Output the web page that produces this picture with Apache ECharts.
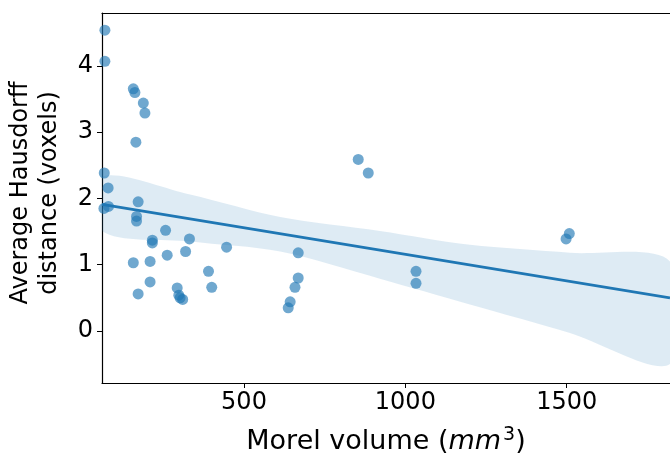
<!DOCTYPE html>
<html>
<head>
<meta charset="utf-8">
<script src="https://cdn.jsdelivr.net/npm/echarts@6/dist/echarts.min.js"></script>
<style>
html,body{margin:0;padding:0;background:#fff;}
#chart{width:670px;height:459px;}
</style>
</head>
<body>
<div id="chart"></div>
<script>
// Scatter data (Morel volume mm^3, Average Hausdorff distance voxels)
const volume = [69, 69, 157, 162, 188, 193, 165, 67, 79, 66, 80, 172, 167, 167, 257, 216, 216, 331, 319, 262, 157, 209, 209, 172, 293, 298, 302, 310, 446, 390, 400, 668, 668, 658, 643, 637, 854, 885, 1033, 1033, 1508, 1498, 1822];
const distance = [4.54, 4.07, 3.655, 3.60, 3.44, 3.29, 2.85, 2.385, 2.16, 1.85, 1.88, 1.95, 1.73, 1.66, 1.52, 1.37, 1.33, 1.39, 1.20, 1.145, 1.03, 1.05, 0.74, 0.56, 0.65, 0.54, 0.50, 0.477, 1.265, 0.90, 0.66, 1.18, 0.80, 0.66, 0.44, 0.35, 2.59, 2.385, 0.90, 0.72, 1.47, 1.39, 0.68];

// Regression line endpoints
const regX = [60, 1820];
const regY = [1.91, 0.50];

// Confidence band edges
const bandX = [60, 333, 612, 921, 1200, 1510, 1820];
const bandUpper = [2.33, 2.06, 1.72, 1.51, 1.30, 1.18, 1.05];
const bandLower = [1.51, 1.35, 1.20, 0.79, 0.40, -0.03, -0.50];

// Ticks
const xTicks = [500, 1000, 1500];
const yTicks = [0, 1, 2, 3, 4];

const X_MIN = 60, X_MAX = 1820, Y_MIN = -0.785, Y_MAX = 4.80;

const chart = echarts.init(document.getElementById('chart'), null, {renderer: 'canvas'});
const font = 'DejaVu Sans';

const scatterData = volume.map((v, i) => [v, distance[i]]);
const bandData = bandX.map((x, i) => [x, bandLower[i], bandUpper[i]]);

chart.setOption({
  animation: false,
  backgroundColor: '#fff',
  grid: {left: 102, top: 13, right: 0, bottom: 76, containLabel: false, outerBoundsMode: 'none'},
  xAxis: [{
    type: 'value', min: X_MIN, max: X_MAX,
    splitLine: {show: false},
    axisLine: {show: true, onZero: false, lineStyle: {color: '#000', width: 1.2}},
    axisTick: {show: true, length: 5, inside: false, customValues: xTicks, lineStyle: {color: '#000', width: 1}},
    axisLabel: {customValues: xTicks, formatter: v => String(v), fontFamily: font, fontSize: 24, color: '#000', margin: 8},
    name: '{n|Morel volume (}{i|mm}{s|3}{n|)}',
    nameLocation: 'middle', nameGap: 43,
    nameTextStyle: {
      rich: {
        n: {fontFamily: font, fontSize: 27, color: '#000'},
        i: {fontFamily: font, fontSize: 27, fontStyle: 'italic', color: '#000'},
        s: {fontFamily: font, fontSize: 19, color: '#000', padding: [0, 0, 13, 2]}
      }
    }
  }, {
    type: 'value', position: 'top', min: X_MIN, max: X_MAX,
    splitLine: {show: false},
    axisLine: {show: true, onZero: false, lineStyle: {color: '#000', width: 1.2}},
    axisTick: {show: false}, axisLabel: {show: false}
  }],
  yAxis: {
    type: 'value', min: Y_MIN, max: Y_MAX,
    splitLine: {show: false},
    axisLine: {show: true, onZero: false, lineStyle: {color: '#000', width: 1.2}},
    axisTick: {show: true, length: 5, customValues: yTicks, lineStyle: {color: '#000', width: 1}},
    axisLabel: {customValues: yTicks, formatter: v => String(v), fontFamily: font, fontSize: 24, color: '#000', margin: 9},
    name: 'Average Hausdorff\ndistance (voxels)',
    nameLocation: 'middle', nameGap: 38, nameRotate: 90,
    nameTextStyle: {fontFamily: font, fontSize: 24, color: '#000', lineHeight: 29, align: 'center', padding: [0, 0, 0, 10]}
  },
  series: [{
    type: 'custom',
    coordinateSystem: 'cartesian2d',
    data: bandData,
    z: 1,
    renderItem: function (params, api) {
      if (params.dataIndex !== 0) return null;
      const up = bandData.map(d => api.coord([d[0], d[2]]));
      const lo = bandData.map(d => api.coord([d[0], d[1]])).reverse();
      return {
        type: 'polygon',
        shape: {points: up.concat(lo), smooth: 0.3},
        style: {fill: 'rgba(31,119,180,0.15)', stroke: null}
      };
    },
    clip: true,
    silent: true
  }, {
    type: 'line',
    data: regX.map((x, i) => [x, regY[i]]),
    symbol: 'none',
    z: 3,
    lineStyle: {color: '#1f77b4', width: 2.8},
    silent: true
  }, {
    type: 'scatter',
    data: scatterData,
    symbolSize: 11,
    z: 2,
    itemStyle: {color: 'rgba(31,119,180,0.8)', borderWidth: 0},
    silent: true
  }]
});
</script>
</body>
</html>
